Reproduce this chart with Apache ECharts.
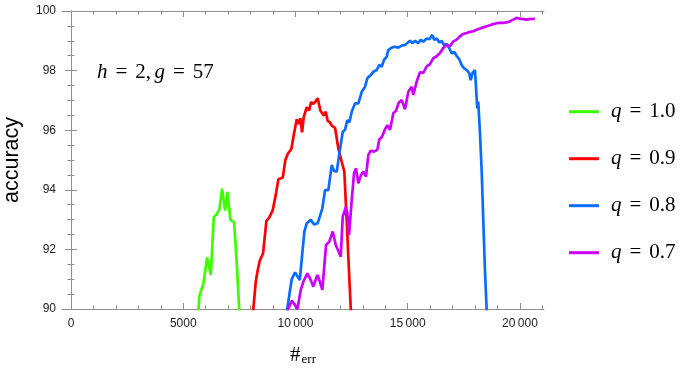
<!DOCTYPE html>
<html>
<head>
<meta charset="utf-8">
<script src="https://cdn.jsdelivr.net/npm/echarts@6/dist/echarts.min.js"></script>
<style>html,body{margin:0;padding:0;background:#fff}#c{width:692px;height:372px}</style>
</head>
<body>
<div id="c"></div>
<script>
// ---- data (x = #err, y = accuracy) ----
var seriesNames = ['1.0', '0.9', '0.8', '0.7'];
var q10 = [[5670,89.9],[5722,90.44],[5900,90.86],[6064,91.73],[6228,91.14],[6361,93.08],[6495,93.18],[6612,93.35],[6731,94.04],[6865,93.30],[6968,93.93],[7102,92.99],[7265,92.91],[7385,91.53],[7500,89.9]];
var q09 = [[8110,89.9],[8231,90.92],[8320,91.31],[8409,91.62],[8557,91.87],[8704,92.95],[8838,93.08],[8988,93.32],[9122,93.83],[9238,94.35],[9327,94.29],[9434,94.41],[9550,95.0],[9657,95.21],[9817,95.37],[9923,95.84],[10057,96.37],[10146,96.21],[10218,96.40],[10293,95.93],[10369,96.44],[10502,96.77],[10605,96.66],[10694,96.94],[10797,96.88],[10886,96.96],[10992,97.07],[11108,96.66],[11259,96.49],[11348,96.62],[11437,96.31],[11539,96.26],[11615,96.15],[11762,96.08],[11909,95.39],[12060,94.94],[12176,94.61],[12283,92.93],[12385,91.25],[12470,89.9]];
var q08 = [[9610,89.9],[9833,91.0],[9981,91.23],[10191,90.97],[10396,92.6],[10502,92.88],[10680,92.99],[10828,92.84],[10992,92.88],[11197,93.38],[11317,93.99],[11464,93.99],[11615,94.83],[11718,94.63],[11838,94.61],[11955,95.22],[12105,95.95],[12207,96.01],[12310,96.34],[12399,96.26],[12506,96.62],[12652,96.90],[12800,96.90],[12951,97.29],[13098,97.46],[13200,97.74],[13352,97.85],[13467,97.96],[13619,98.02],[13734,98.19],[13841,98.13],[13944,98.36],[14064,98.47],[14135,98.69],[14287,98.77],[14433,98.80],[14580,98.77],[14732,98.84],[14879,98.86],[15101,99.0],[15221,98.92],[15324,99.0],[15471,98.92],[15578,99.03],[15693,98.97],[15845,99.08],[15960,99.05],[16094,99.19],[16183,99.03],[16290,99.08],[16406,98.94],[16512,99.0],[16615,98.86],[16735,98.89],[16851,98.75],[16958,98.58],[17073,98.63],[17180,98.49],[17296,98.38],[17403,98.19],[17505,98.08],[17625,98.02],[17741,97.91],[17804,97.68],[17893,97.93],[17995,98.02],[18040,97.46],[18097,96.73],[18142,96.96],[18218,95.90],[18293,94.66],[18365,92.99],[18440,91.31],[18520,89.9]];
var q07 = [[9620,89.9],[9833,90.28],[9981,90.13],[10084,89.99],[10235,90.64],[10351,90.92],[10529,91.20],[10680,90.97],[10796,90.75],[10974,91.14],[11063,90.97],[11197,90.64],[11362,92.15],[11510,92.26],[11660,92.60],[11793,92.15],[11954,91.87],[12016,91.75],[12105,93.10],[12252,93.43],[12310,93.21],[12385,92.48],[12506,93.66],[12608,94.55],[12697,94.72],[12800,94.22],[12920,94.50],[13022,94.61],[13142,94.44],[13245,95.17],[13352,95.31],[13499,95.28],[13646,95.34],[13734,95.69],[13855,95.78],[13988,96.03],[14090,96.17],[14211,96.01],[14357,96.57],[14478,96.65],[14598,96.92],[14732,97.01],[14879,96.70],[15026,97.29],[15177,97.46],[15248,97.18],[15400,97.63],[15546,97.95],[15693,97.92],[15845,98.14],[15992,98.22],[16139,98.42],[16290,98.48],[16437,98.59],[16584,98.76],[16735,98.87],[16882,98.82],[17029,98.98],[17180,99.04],[17327,99.15],[17474,99.23],[17625,99.26],[17772,99.30],[17919,99.32],[18071,99.37],[18218,99.41],[18365,99.45],[18516,99.49],[18663,99.52],[18810,99.56],[18961,99.59],[19108,99.60],[19255,99.60],[19406,99.62],[19553,99.65],[19700,99.71],[19851,99.77],[19998,99.74],[20145,99.73],[20296,99.71],[20443,99.73],[20666,99.74]];
var xMajorTicks = [0, 5000, 10000, 15000, 20000];
var xMinorTicks = [1000,2000,3000,4000,6000,7000,8000,9000,11000,12000,13000,14000,16000,17000,18000,19000,21000];
var yTicks = [90, 92, 94, 96, 98, 100];

// ---- chart ----
var colors = ['#3dff00', '#ff0000', '#0a6cff', '#cc00ff'];
var seriesData = [q10, q09, q08, q07];
var XMIN = -400, XMAX = 21070;
var frame = '#8f8f8f';
var gridPos = {left: 62, right: 148, top: 11, bottom: 63, containLabel: false, outerBoundsMode: 'none'};
var serif = 'Liberation Serif';
var richMath = {
  i: {fontFamily: serif, fontStyle: 'italic', fontSize: 21, color: '#000'},
  eq: {fontFamily: serif, fontSize: 21, color: '#000', padding: [0, 8, 0, 8]},
  n: {fontFamily: serif, fontSize: 21, color: '#000'}
};

function fmtX(v) {
  var s = String(v);
  if (s.length > 4) s = s.slice(0, s.length - 3) + '\u2009' + s.slice(s.length - 3);
  return s;
}

var chart = echarts.init(document.getElementById('c'), null, {renderer: 'canvas'});
var option = {
  animation: false,
  color: colors,
  grid: [Object.assign({}, gridPos), Object.assign({}, gridPos)],
  xAxis: [
    {gridIndex: 0, type: 'value', position: 'bottom', min: XMIN, max: XMAX,
     axisLine: {show: true, lineStyle: {color: frame, width: 1}},
     axisTick: {show: true, inside: true, length: 6, customValues: xMajorTicks, lineStyle: {color: frame}},
     axisLabel: {customValues: xMajorTicks, formatter: fmtX, margin: 9, fontSize: 12, color: '#222', fontFamily: 'Liberation Sans'},
     splitLine: {show: false},
     name: '{h|#}{s|err}', nameLocation: 'middle', nameGap: 36,
     nameTextStyle: {rich: {h: {fontFamily: serif, fontSize: 21, color: '#000'}, s: {fontFamily: serif, fontSize: 13, color: '#000', verticalAlign: 'bottom', padding: [8, 0, 0, 1]}}}
    },
    {gridIndex: 0, type: 'value', position: 'top', min: XMIN, max: XMAX,
     axisLine: {show: true, lineStyle: {color: frame, width: 1}},
     axisTick: {show: true, inside: true, length: 6, customValues: xMajorTicks, lineStyle: {color: frame}},
     axisLabel: {show: false}, splitLine: {show: false}},
    {gridIndex: 1, type: 'value', position: 'bottom', min: XMIN, max: XMAX,
     axisLine: {show: false},
     axisTick: {show: true, inside: true, length: 3.5, customValues: xMinorTicks, lineStyle: {color: frame}},
     axisLabel: {show: false}, splitLine: {show: false}},
    {gridIndex: 1, type: 'value', position: 'top', min: XMIN, max: XMAX,
     axisLine: {show: false},
     axisTick: {show: true, inside: true, length: 3.5, customValues: xMinorTicks, lineStyle: {color: frame}},
     axisLabel: {show: false}, splitLine: {show: false}}
  ],
  yAxis: [
    {gridIndex: 0, type: 'value', position: 'left', min: 90, max: 100, interval: 2,
     axisLine: {show: true, lineStyle: {color: frame, width: 1}},
     axisTick: {show: true, inside: true, length: 6, lineStyle: {color: frame}},
     minorTick: {show: true, splitNumber: 4, length: 3.5, lineStyle: {color: frame}},
     axisLabel: {customValues: yTicks, margin: 6, fontSize: 12, color: '#222', fontFamily: 'Liberation Sans'},
     splitLine: {show: false},
     name: 'accuracy', nameLocation: 'middle', nameRotate: 90, nameGap: 39,
     nameTextStyle: {fontFamily: 'Liberation Sans', fontSize: 21.5, color: '#000'}
    },
    {gridIndex: 0, type: 'value', position: 'right', min: 90, max: 100, interval: 2,
     axisLine: {show: true, lineStyle: {color: frame, width: 1}},
     axisTick: {show: true, inside: true, length: 6, lineStyle: {color: frame}},
     minorTick: {show: true, splitNumber: 4, length: 3.5, lineStyle: {color: frame}},
     axisLabel: {show: false}, splitLine: {show: false}},
    {gridIndex: 1, type: 'value', min: 90, max: 100, show: false}
  ],
  legend: {
    orient: 'vertical', left: 569, top: 99.7, padding: 0, itemWidth: 30, itemHeight: 3, itemGap: 23,
    icon: 'rect',
    formatter: function (name) { return '{i|q}{eq|=}{n|' + name + '}'; },
    textStyle: {lineHeight: 24, padding: [0, 0, 0, 7], rich: richMath},
    data: seriesNames
  },
  graphic: [{
    type: 'text', left: 97, top: 62,
    style: {text: '{i|h}{eq|=}{n|2,} {i|g}{eq|=}{n|57}', rich: richMath}
  }],
  series: seriesData.map(function (d, k) {
    return {
      name: seriesNames[k], type: 'line', xAxisIndex: 0, yAxisIndex: 0,
      data: d, showSymbol: false, symbol: 'none', clip: true,
      lineStyle: {width: 2.7, color: colors[k]}, itemStyle: {color: colors[k]}
    };
  })
};
chart.setOption(option);
</script>
</body>
</html>
